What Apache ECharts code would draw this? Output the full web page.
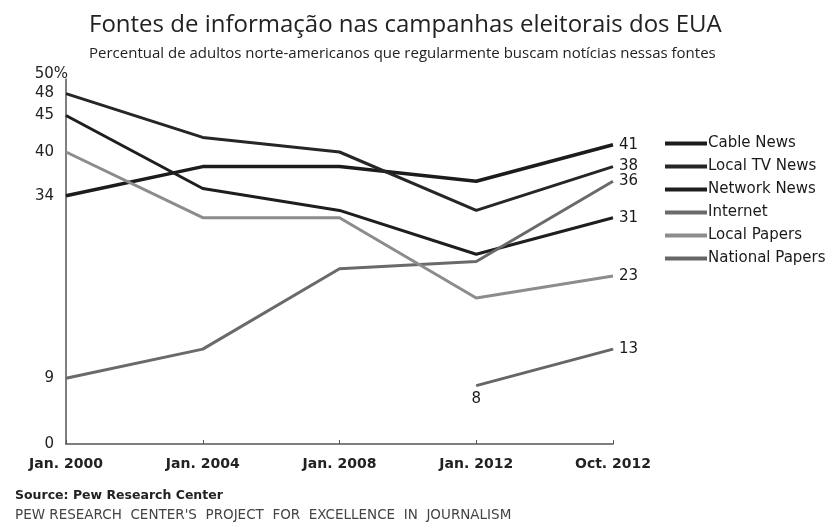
<!DOCTYPE html>
<html><head><meta charset="utf-8">
<script src="https://cdn.jsdelivr.net/npm/echarts@6/dist/echarts.min.js"></script>
<style>html,body{margin:0;padding:0;background:#fff}#c{width:838px;height:531px}</style>
</head><body><div id="c"></div>
<script>
const categories = ['Jan. 2000','Jan. 2004','Jan. 2008','Jan. 2012','Oct. 2012'];
const cableNews = [34, 38, 38, 36, 41];
const localTVNews = [48, 42, 40, 32, 38];
const networkNews = [45, 35, 32, 26, 31];
const internet = [9, 13, 24, 25, 36];
const localPapers = [40, 31, 31, 20, 23];
const nationalPapers = [null, null, null, 8, 13];
const yTickLabels = [0, 9, 34, 40, 45, 48, 50];

const F = 'DejaVu Sans, Verdana, sans-serif';
const chart = echarts.init(document.getElementById('c'));
function mk(name, data, color, width) {
  return {
    name, type: 'line', data, symbol: 'none', smooth: false,
    lineStyle: { color, width }, itemStyle: { color },
    endLabel: { show: true, formatter: p => p.value, color: '#1a1a1a', fontFamily: F, fontSize: 15, distance: 6 },
    emphasis: { disabled: true }
  };
}
const natData = nationalPapers.map((v, i) => (i === 3 && v != null)
  ? { value: v, symbol: 'circle', symbolSize: 1, label: { show: true, position: 'bottom', distance: 6, formatter: '{c}', color: '#1a1a1a', fontFamily: F, fontSize: 15 } }
  : v);
const nat = mk('National Papers', natData, '#666', 3);
nat.showSymbol = true;
nat.symbol = 'circle';
nat.symbolSize = 1;
chart.setOption({
  animation: false,
  title: [
    { text: 'Fontes de informação nas campanhas eleitorais dos EUA', left: 84, top: 8,
      textStyle: { fontFamily: 'Open Sans, sans-serif', fontWeight: 'normal', fontSize: 24, color: '#222' } },
    { text: 'Percentual de adultos norte-americanos que regularmente buscam notícias nessas fontes', left: 84, top: 41,
      textStyle: { fontFamily: 'Open Sans, sans-serif', fontWeight: 'normal', fontSize: 15, color: '#222' } },
    { text: 'Source: Pew Research Center', left: 10, top: 484,
      textStyle: { fontFamily: F, fontWeight: 'bold', fontSize: 12.5, color: '#222' } },
    { text: "PEW RESEARCH  CENTER'S  PROJECT  FOR  EXCELLENCE  IN  JOURNALISM", left: 10, top: 503,
      textStyle: { fontFamily: F, fontWeight: 'normal', fontSize: 13.5, color: '#444' } }
  ],
  legend: {
    orient: 'vertical', left: 660, top: 130, itemWidth: 42, itemHeight: 4, itemGap: 6, icon: 'rect',
    textStyle: { fontFamily: F, fontSize: 15, color: '#1a1a1a', lineHeight: 17, padding: [0,0,0,-4] },
    data: ['Cable News','Local TV News','Network News','Internet','Local Papers','National Papers']
  },
  grid: { left: 66, right: 225, top: 79, bottom: 87 },
  xAxis: {
    type: 'category', data: categories, boundaryGap: false,
    axisLine: { lineStyle: { color: '#555', width: 1.5 } },
    axisTick: { show: true, length: 4, inside: true, lineStyle: { color: '#555' } },
    axisLabel: { fontFamily: F, fontSize: 14, fontWeight: 'bold', color: '#222', margin: 13 }
  },
  yAxis: {
    type: 'value', min: 0, max: 50, interval: 1,
    splitLine: { show: false }, axisTick: { show: false },
    axisLine: { show: true, lineStyle: { color: '#555', width: 1.5 } },
    axisLabel: { fontFamily: F, fontSize: 15, color: '#222', margin: 12,
      formatter: v => yTickLabels.includes(v) ? (v === 50 ? '{p|50%}' : String(v)) : '',
      rich: { p: { fontFamily: F, fontSize: 15, color: '#222', padding: [0, -14, 10, 0] } } }
  },
  series: [
    mk('Cable News', cableNews, '#1c1c1c', 3.5),
    mk('Local TV News', localTVNews, '#262626', 3),
    mk('Network News', networkNews, '#1e1e1e', 3),
    mk('Internet', internet, '#6a6a6a', 3),
    mk('Local Papers', localPapers, '#8c8c8c', 3),
    nat
  ]
});
</script></body></html>
